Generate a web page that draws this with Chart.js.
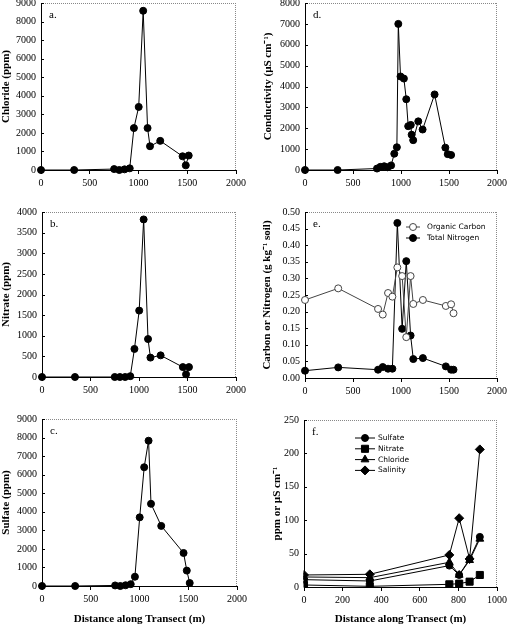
<!DOCTYPE html>
<html>
<head>
<meta charset="utf-8">
<script src="https://cdn.jsdelivr.net/npm/chart.js@4.4.0/dist/chart.umd.min.js"></script>
<style>
  html, body { margin: 0; padding: 0; background: #fff; }
  body { width: 510px; height: 626px; position: relative; overflow: hidden; }
  canvas { position: absolute; }
</style>
</head>
<body>
<canvas id="chartA" width="255" height="205" style="left:0;top:-10px"></canvas>
<canvas id="chartD" width="255" height="205" style="left:255px;top:-10px"></canvas>
<canvas id="chartB" width="255" height="205" style="left:0;top:195px"></canvas>
<canvas id="chartE" width="255" height="205" style="left:255px;top:195px"></canvas>
<canvas id="chartC" width="255" height="226" style="left:0;top:400px"></canvas>
<canvas id="chartF" width="255" height="226" style="left:255px;top:400px"></canvas>
<script>
(() => {
  // ---------- Data ----------
  // distance along transect (m), panels a-c
  const distance = [0, 340, 750, 803, 857, 910, 953, 1002, 1048, 1093, 1118, 1223, 1452, 1485, 1515];
  const chloride = [0, 0, 50, 0, 35, 90, 2260, 3400, 8580, 2260, 1280, 1570, 740, 250, 780];
  const nitrate  = [0, 0, 0, 0, 0, 20, 680, 1610, 3820, 920, 470, 525, 240, 65, 240];
  const sulfate  = [0, 0, 30, 0, 40, 100, 500, 3700, 6400, 7830, 4430, 3240, 1780, 830, 160];

  // panel d
  const distCond = [0, 340, 750, 785, 825, 860, 897, 930, 957, 972, 995, 1030, 1055, 1075, 1102, 1111, 1127, 1180, 1225, 1350, 1462, 1487, 1522];
  const conductivity = [0, 0, 70, 150, 180, 130, 220, 780, 1090, 7000, 4480, 4380, 3390, 2100, 2160, 1690, 1430, 2330, 1940, 3620, 1070, 760, 720];

  // panel e
  const distSoil = [0, 346, 761, 810, 865, 910, 962, 1012, 1055, 1100, 1128, 1228, 1467, 1522, 1547];
  const organicCarbon = [0.235, 0.270, 0.208, 0.191, 0.256, 0.245, 0.333, 0.307, 0.123, 0.307, 0.223, 0.235, 0.217, 0.222, 0.195];
  const totalNitrogen = [0.022, 0.032, 0.025, 0.033, 0.028, 0.028, 0.467, 0.148, 0.352, 0.128, 0.057, 0.060, 0.035, 0.025, 0.025];

  // panel f (upper transect only)
  const distUpper = [0, 341, 753, 804, 858, 911];
  const upSulfate  = [11, 9, 32, 18, 42, 75];
  const upNitrate  = [3, 1, 4, 5, 8, 18];
  const upChloride = [15, 14, 37, 18, 40, 72];
  const upSalinity = [18, 19, 48, 103, 42, 206];

  const xTitle = 'Distance along Transect (m)';

  // ---------- Helpers ----------
  const tickFont = { family: '"Liberation Serif", "Times New Roman", serif', size: 10 };
  const titleFont = { family: '"Liberation Serif", "Times New Roman", serif', size: 11, weight: 'bold' };
  const toXY = (xs, ys) => xs.map((x, i) => ({ x, y: ys[i] }));

  function series(xs, ys, extra) {
    return Object.assign({
      data: toXY(xs, ys),
      showLine: true,
      borderColor: '#000',
      borderWidth: 1,
      pointRadius: 3.5,
      pointBackgroundColor: '#000',
      pointBorderColor: '#000',
      pointBorderWidth: 1,
      clip: false
    }, extra || {});
  }

  // dotted top/right frame, inward y ticks, panel letter, inline legend
  const panelExtras = {
    id: 'panelExtras',
    afterDraw(chart, args, opts) {
      const { ctx, chartArea: a } = chart;
      const y = chart.scales.y;
      ctx.save();
      ctx.strokeStyle = '#888';
      ctx.lineWidth = 1;
      ctx.setLineDash([1, 1]);
      ctx.beginPath();
      ctx.moveTo(a.left, a.top + 0.5); ctx.lineTo(a.right, a.top + 0.5);
      ctx.moveTo(a.right - 0.5, a.top); ctx.lineTo(a.right - 0.5, a.bottom);
      ctx.stroke();
      ctx.setLineDash([]);

      ctx.strokeStyle = '#000';
      ctx.beginPath();
      y.ticks.forEach(t => {
        const py = Math.round(y.getPixelForValue(t.value)) + 0.5;
        ctx.moveTo(a.left, py); ctx.lineTo(a.left + 3, py);
      });
      ctx.stroke();

      ctx.fillStyle = '#000';
      ctx.font = '11px "Liberation Serif", serif';
      ctx.textBaseline = 'middle';
      ctx.fillText(opts.label, a.left + 8, a.top + 12);

      if (opts.legend) {
        const lg = opts.legend;
        ctx.font = '7.5px "DejaVu Sans", sans-serif';
        lg.items.forEach((it, i) => {
          const ly = a.top + lg.y + i * lg.gap;
          ctx.strokeStyle = it.color;
          ctx.lineWidth = 1;
          ctx.beginPath();
          ctx.moveTo(a.left + lg.x0, ly); ctx.lineTo(a.left + lg.x1, ly);
          ctx.stroke();
          ctx.fillStyle = it.fill;
          ctx.strokeStyle = it.color;
          Chart.helpers.drawPoint(ctx, { pointStyle: it.style, radius: it.radius, rotation: 0, borderWidth: 1 },
            a.left + (lg.x0 + lg.x1) / 2, ly);
          ctx.fillStyle = '#000';
          ctx.fillText(it.text, a.left + lg.tx, ly);
        });
      }
      ctx.restore();
    }
  };

  function makePanel(id, o) {
    new Chart(document.getElementById(id), {
      type: 'scatter',
      data: { datasets: o.datasets },
      options: {
        responsive: false,
        animation: false,
        layout: { padding: { top: o.padTop, right: o.padRight, left: 0, bottom: 0 } },
        plugins: {
          legend: { display: false },
          tooltip: { enabled: false },
          panelExtras: { label: o.label, legend: o.legend }
        },
        scales: {
          x: {
            type: 'linear', min: 0, max: o.xMax,
            ticks: { stepSize: o.xStep, padding: 3, color: '#000', font: tickFont, maxRotation: 0, autoSkip: false,
              callback: v => String(v) },
            grid: { drawOnChartArea: false, drawTicks: true, tickLength: 4, color: '#000' },
            border: { color: '#000' },
            title: { display: !!o.xTitle, text: o.xTitle, color: '#000', font: titleFont, padding: { top: 0, bottom: 0 } },
            afterFit: s => { s.height = o.xH; }
          },
          y: {
            type: 'linear', min: 0, max: o.yMax,
            ticks: { stepSize: o.yStep, padding: 5, color: '#000', font: tickFont, autoSkip: false,
              callback: o.yFmt || (v => String(v)) },
            grid: { drawOnChartArea: false, drawTicks: false },
            border: { color: '#000' },
            title: { display: true, text: o.yTitle, color: '#000', font: titleFont, padding: { top: o.yTitlePad, bottom: 0 } },
            afterFit: s => { s.width = o.yW; }
          }
        }
      },
      plugins: [panelExtras]
    });
  }

  // ---------- Panels ----------
  makePanel('chartA', {
    label: 'a.', datasets: [series(distance, chloride)],
    xMax: 2000, xStep: 500, yMax: 9000, yStep: 1000,
    yTitle: 'Chloride (ppm)', yTitlePad: 0,
    yW: 41, padTop: 13, padRight: 19, xH: 25
  });

  makePanel('chartD', {
    label: 'd.', datasets: [series(distCond, conductivity)],
    xMax: 2000, xStep: 500, yMax: 8000, yStep: 1000,
    yTitle: 'Conductivity (\u00b5S cm\u207b\u00b9)', yTitlePad: 7,
    yW: 50, padTop: 13, padRight: 12, xH: 25
  });

  makePanel('chartB', {
    label: 'b.', datasets: [series(distance, nitrate)],
    xMax: 2000, xStep: 500, yMax: 4000, yStep: 500,
    yTitle: 'Nitrate (ppm)', yTitlePad: 0,
    yW: 42, padTop: 17, padRight: 19, xH: 23
  });

  makePanel('chartE', {
    label: 'e.',
    datasets: [
      series(distSoil, organicCarbon, { borderColor: '#444', pointBackgroundColor: '#fff', pointBorderColor: '#444' }),
      series(distSoil, totalNitrogen)
    ],
    xMax: 2000, xStep: 500, yMax: 0.5, yStep: 0.05, yFmt: v => v.toFixed(2),
    yTitle: 'Carbon or Nitrogen (g kg\u207b\u00b9 soil)', yTitlePad: 6,
    yW: 50, padTop: 17, padRight: 12, xH: 22,
    legend: {
      x0: 101, x1: 115, tx: 122, y: 15, gap: 11,
      items: [
        { text: 'Organic Carbon', style: 'circle', radius: 3.5, fill: '#fff', color: '#444' },
        { text: 'Total Nitrogen', style: 'circle', radius: 3.5, fill: '#000', color: '#000' }
      ]
    }
  });

  makePanel('chartC', {
    label: 'c.', datasets: [series(distance, sulfate)],
    xMax: 2000, xStep: 500, yMax: 9000, yStep: 1000,
    yTitle: 'Sulfate (ppm)', yTitlePad: 0, xTitle: xTitle,
    yW: 42, padTop: 19, padRight: 18, xH: 40
  });

  makePanel('chartF', {
    label: 'f.',
    datasets: [
      series(distUpper, upSulfate, { clip: 0.5 }),
      series(distUpper, upNitrate, { pointStyle: 'rect', pointRadius: 5, clip: 0.5 }),
      series(distUpper, upChloride, { pointStyle: 'triangle', pointRadius: 4.5, clip: 0.5 }),
      series(distUpper, upSalinity, { pointStyle: 'rectRot', pointRadius: 4.5, clip: 0.5 })
    ],
    xMax: 1000, xStep: 200, yMax: 250, yStep: 50,
    yTitle: 'ppm or \u00b5S cm\u207b\u00b9', yTitlePad: 16, xTitle: xTitle,
    yW: 49, padTop: 20, padRight: 10, xH: 39,
    legend: {
      x0: 51, x1: 71, tx: 74, y: 18, gap: 10.8,
      items: [
        { text: 'Sulfate', style: 'circle', radius: 3.5, fill: '#000', color: '#000' },
        { text: 'Nitrate', style: 'rect', radius: 5, fill: '#000', color: '#000' },
        { text: 'Chloride', style: 'triangle', radius: 4.5, fill: '#000', color: '#000' },
        { text: 'Salinity', style: 'rectRot', radius: 4.5, fill: '#000', color: '#000' }
      ]
    }
  });
})();
</script>
</body>
</html>
